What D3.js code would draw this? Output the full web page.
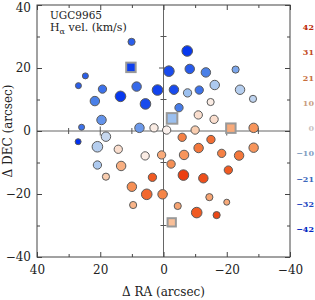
<!DOCTYPE html>
<html>
<head>
<meta charset="utf-8">
<script src="https://cdn.jsdelivr.net/npm/d3@7"></script>
<style>
  body { margin: 0; background: #fff; }
  text { font-family: "DejaVu Serif", serif; }
</style>
</head>
<body>
<div id="chart"></div>
<script>
// fibre positions (arcsec offsets), H-alpha velocity and relative flux
const ra   = [10.1, 26.9, 24.7, 19.3, 21.7, 13.6, 8.5, 5.7, 1.9, 19.6, 25.9, 7.6, 3.0,
              -7.5, -1.7, -8.3, -13.4, -22.8, -3.3, -7.6, -11.3, -16.2, -24.2, -28.3, -14.9, -4.9,
              -11.0, -16.0, -1.0, -28.5,
              27.0, 18.2, 20.9, 14.3, 20.9, 13.4, 18.2, 5.8, 0.6, 3.5, 10.0, 5.3, 0.3, 9.6,
              -5.9, -10.0, -15.0, -11.1, -28.5, -6.5, -18.4, -23.9, -2.4, -20.5, -6.3, -12.6,
              -14.5, -20.0, -10.5, -16.8, -4.5];
const dec  = [28.3, 14.4, 17.5, 13.3, 9.5, 11.0, 14.1, 8.6, 13.0, 3.5, 1.2, 1.0, 1.0,
              25.4, 19.0, 19.7, 18.6, 19.5, 13.1, 12.1, 13.0, 14.6, 13.1, 10.2, 9.2, 7.4,
              5.1, 3.7, 0.3, 1.0,
              -3.4, -1.8, -5.0, -5.8, -10.8, -11.1, -14.5, -7.9, -7.6, -14.7, -17.7, -20.1, -20.1, -23.5,
              -2.0, 0.3, -2.7, -5.4, -5.3, -7.6, -7.1, -7.8, -10.5, -12.4, -14.0, -15.0,
              -21.0, -22.6, -25.9, -26.7, -23.8];
const vel  = [-30, -30, -30, -25, -21, -40, -27, -35, -37, -18, -25, -17, 1,
              -40, -35, -31, -21, -15, -35, -11, -25, -9, -8, -7, 1, -22,
              4, 4, 0, 19,
              -42, -6, -8, 4, -9, 14, 8, 1, 15, 31, 20, 28, 22, 13,
              23, 8, 27, 25, 19, 19, 23, 25, 20, 31, 38, 34,
              16, 15, 31, 36, 16];
const flux = [2, 1, 1, 3, 4, 5, 4, 5, 5, 4, 1, 4, 3,
              5, 5, 4, 4, 2, 4, 3, 3, 4, 4, 2, 2, 3,
              3, 3, 3, 4,
              1, 4, 5, 3, 3, 4, 2, 3, 3, 3, 4, 5, 4, 2,
              3, 3, 3, 4, 4, 4, 3, 4, 3, 3, 5, 4,
              2, 1, 5, 2, 2];

// square markers
const sqRa   = [10.3, -2.7, -21.3, -2.6];
const sqDec  = [20.2, 4.0, 0.9, -29.0];
const sqVel  = [-38, -11, 15, 11];
const sqFlux = [4, 5, 4, 3];

// colour key on the right
const keyLabels = [42, 31, 21, 10, 0, -10, -21, -32, -42];

const majorTicks = [-40, -20, 0, 20, 40];
const minorTicks = [-30, -10, 10, 30];

const width = 315, height = 300;
const margin = { top: 5, right: 25, bottom: 43, left: 37 };

const svg = d3.select("#chart").append("svg")
  .attr("width", width)
  .attr("height", height);

const x = d3.scaleLinear().domain([40, -40]).range([margin.left, width - margin.right]);
const y = d3.scaleLinear().domain([-40, 40]).range([height - margin.bottom, margin.top]);
const r = d3.scaleLinear().domain([1, 5]).range([3, 5.3]);

const color = d3.scaleLinear()
  .domain([-42, -21, -10, 0, 10, 21, 31, 42])
  .range(["#0030f0", "#4a80e8", "#a4c6f0", "#faf0ec", "#f9c4a0", "#f68a4c", "#f05a22", "#e83008"])
  .interpolate(d3.interpolateRgb);

const fmt = d => d3.format("d")(d).replace("-", "\u2212");

// zero lines
svg.append("line")
  .attr("x1", x(0)).attr("x2", x(0))
  .attr("y1", y(-40)).attr("y2", y(40))
  .attr("stroke", "#666").attr("stroke-width", 1);
svg.append("line")
  .attr("x1", x(40)).attr("x2", x(-40))
  .attr("y1", y(0)).attr("y2", y(0))
  .attr("stroke", "#666").attr("stroke-width", 1);

// little ticks on the zero lines
const zt = majorTicks.filter(d => Math.abs(d) === 20).concat(minorTicks);
svg.selectAll(".ztx").data(zt).join("line")
  .attr("x1", d => x(d)).attr("x2", d => x(d))
  .attr("y1", d => y(0) - (Math.abs(d) === 20 ? 4.5 : 3))
  .attr("y2", d => y(0) + (Math.abs(d) === 20 ? 4.5 : 3))
  .attr("stroke", "#555");
svg.selectAll(".zty").data(zt).join("line")
  .attr("y1", d => y(d)).attr("y2", d => y(d))
  .attr("x1", d => x(0) - (Math.abs(d) === 20 ? 4.5 : 3))
  .attr("x2", d => x(0) + (Math.abs(d) === 20 ? 4.5 : 3))
  .attr("stroke", "#555");

// frame axes, ticks pointing inwards
function addAxis(axis, tx, ty, vals, size, labels, pad) {
  const g = svg.append("g")
    .attr("transform", `translate(${tx},${ty})`)
    .call(axis.tickValues(vals).tickSize(size).tickSizeOuter(0).tickPadding(pad)
      .tickFormat(labels ? fmt : ""));
  g.select(".domain").remove();
  g.selectAll("line").attr("stroke", "#444");
  g.selectAll("text")
    .attr("fill", "#222")
    .style("font-family", "DejaVu Serif, serif")
    .style("font-size", "12px");
  return g;
}
const bottomY = height - margin.bottom, rightX = width - margin.right;
addAxis(d3.axisBottom(x), 0, bottomY, majorTicks, -5, true, 8);
addAxis(d3.axisBottom(x), 0, bottomY, minorTicks, -3, false, 0);
addAxis(d3.axisTop(x), 0, margin.top, majorTicks, -5, false, 0);
addAxis(d3.axisTop(x), 0, margin.top, minorTicks, -3, false, 0);
const left = addAxis(d3.axisLeft(y), margin.left, 0, majorTicks, -5, true, 6);
addAxis(d3.axisLeft(y), margin.left, 0, minorTicks, -3, false, 0);
addAxis(d3.axisRight(y), rightX, 0, majorTicks, -5, false, 0);
addAxis(d3.axisRight(y), rightX, 0, minorTicks, -3, false, 0);
// keep the top label inside the page
left.selectAll(".tick").filter(d => d === 40).select("text").attr("dy", "0.5em");

svg.append("rect")
  .attr("x", margin.left).attr("y", margin.top)
  .attr("width", rightX - margin.left).attr("height", bottomY - margin.top)
  .attr("fill", "none").attr("stroke", "#444").attr("stroke-width", 1);

// fibres
const pts = ra.map((d, i) => ({ ra: d, dec: dec[i], v: vel[i], f: flux[i] }));
svg.selectAll(".fib").data(pts).join("circle")
  .attr("cx", d => x(d.ra))
  .attr("cy", d => y(d.dec))
  .attr("r", d => r(d.f))
  .attr("fill", d => color(d.v))
  .attr("stroke", "#5a5a5a")
  .attr("stroke-width", 1);

const sq = sqRa.map((d, i) => ({ ra: d, dec: sqDec[i], v: sqVel[i], f: sqFlux[i] }));
svg.selectAll(".sq").data(sq).join("rect")
  .attr("x", d => x(d.ra) - r(d.f))
  .attr("y", d => y(d.dec) - r(d.f))
  .attr("width", d => 2 * r(d.f))
  .attr("height", d => 2 * r(d.f))
  .attr("fill", d => color(d.v))
  .attr("stroke", "#999")
  .attr("stroke-width", 2);

// titles
svg.append("text")
  .attr("x", 50).attr("y", 18.5)
  .style("font-size", "10.5px").attr("fill", "#222")
  .text("UGC9965");
const t2 = svg.append("text")
  .attr("x", 50).attr("y", 31)
  .style("font-size", "11px").attr("fill", "#222");
t2.append("tspan").text("H");
t2.append("tspan").attr("dy", 3).style("font-size", "8px").text("\u03b1");
t2.append("tspan").attr("dy", -3).text(" vel. (km/s)");

svg.append("text")
  .attr("x", x(0)).attr("y", 296)
  .attr("text-anchor", "middle")
  .style("font-size", "12px").attr("fill", "#222")
  .text("\u0394 RA (arcsec)");
svg.append("text")
  .attr("transform", `translate(12,${y(0)}) rotate(-90)`)
  .attr("text-anchor", "middle")
  .style("font-size", "12px").attr("fill", "#222")
  .text("\u0394 DEC (arcsec)");

// velocity key
const ky = d3.scalePoint().domain(keyLabels).range([27.3, 229.3]);
svg.selectAll(".key").data(keyLabels).join("text")
  .attr("x", 314)
  .attr("y", d => ky(d))
  .attr("dy", "0.35em")
  .attr("text-anchor", "end")
  .style("font-size", "8px")
  .style("font-weight", "bold")
  .attr("fill", d => d3.color(color(d)).darker(0.6))
  .text(d => fmt(d));
</script>
</body>
</html>
